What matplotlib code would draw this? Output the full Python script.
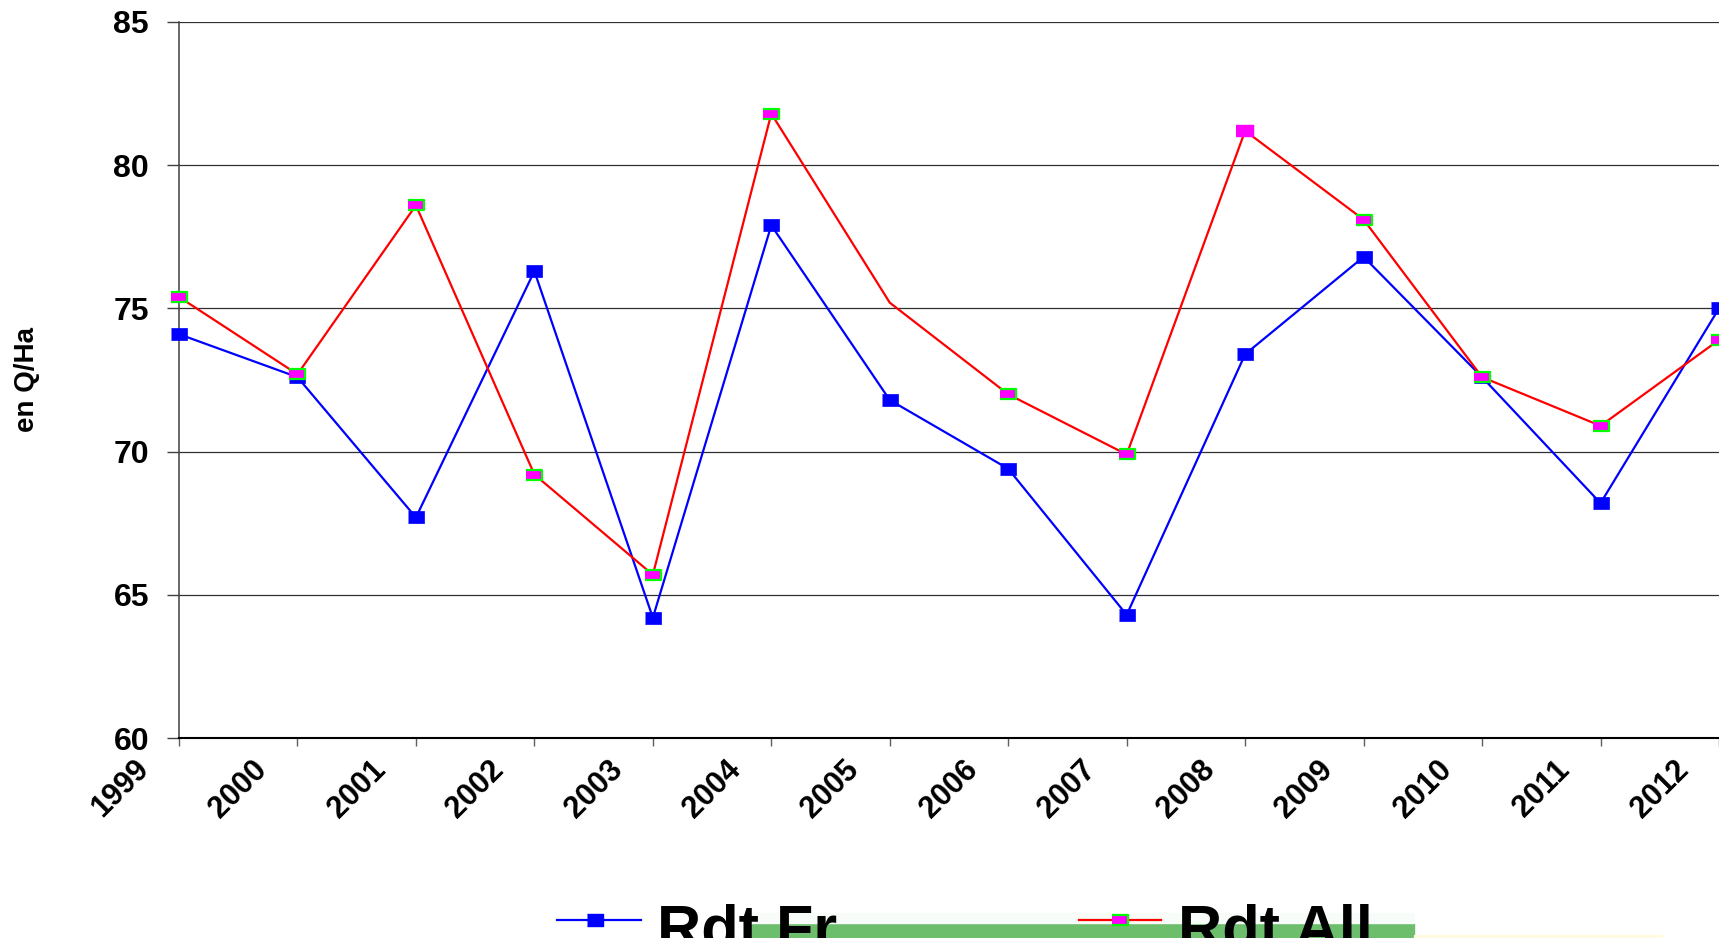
import matplotlib
matplotlib.use("Agg")
import matplotlib.pyplot as plt
from matplotlib.lines import Line2D
from matplotlib.patches import Rectangle
from matplotlib.transforms import ScaledTranslation

plt.rcParams['font.family'] = ['Liberation Sans', 'DejaVu Sans']

years = ['1999', '2000', '2001', '2002', '2003', '2004', '2005', '2006',
         '2007', '2008', '2009', '2010', '2011', '2012']
rdt_fr = [74.1, 72.6, 67.7, 76.3, 64.2, 77.9, 71.8, 69.4, 64.3, 73.4, 76.8, 72.6, 68.2, 75.0]
rdt_all = [75.4, 72.7, 78.6, 69.2, 65.7, 81.8, 75.2, 72.0, 69.9, 81.2, 78.1, 72.6, 70.9, 73.9]
y_ticks = [60, 65, 70, 75, 80, 85]
y_label = 'en Q/Ha'
legend_labels = ['Rdt Fr', 'Rdt All']

W, H = 1719, 938
fig = plt.figure(figsize=(W / 100, H / 100), dpi=100)
ax = fig.add_axes([179 / W, (H - 738) / H, (W - 179) / W, (738 - 22) / H])

rect = [(-1, -0.68), (1, -0.68), (1, 0.68), (-1, 0.68)]
x = list(range(len(years)))

ax.plot(x, rdt_fr, color='#0000ff', lw=1.6, marker=rect, ms=12,
        mfc='#0000ff', mec='#0000ff', mew=0.5, clip_on=False, zorder=3)

all_green = [i for i in x if i not in (6, 9)]
ax.plot(x, rdt_all, color='#ff0000', lw=1.6, marker=rect, ms=11,
        mfc='#ff00ff', mec='#00ff00', mew=1.6, markevery=all_green,
        clip_on=False, zorder=4)
ax.plot([x[9]], [rdt_all[9]], ls='none', marker=rect, ms=13,
        mfc='#ff00ff', mec='#ff00ff', mew=0.3, clip_on=False, zorder=4)

ax.set_xlim(0, (W - 179) / 119.08)
ax.set_ylim(60, 85)
ax.set_yticks(y_ticks)
ax.set_yticklabels([str(v) for v in y_ticks], fontsize=23, fontweight='bold')
ax.set_xticks(x)
ax.set_xticklabels([])

# rotated category labels, offset like the original
off = ScaledTranslation(-0.35, -0.27, fig.dpi_scale_trans)
for xi, lab in zip(x, years):
    ax.text(xi, 0, lab, transform=ax.get_xaxis_transform() + off,
            fontsize=22, fontweight='bold', rotation=45, ha='right', va='center',
            rotation_mode='anchor', clip_on=False)

ax.tick_params(axis='y', direction='out', length=8.6, width=1.0, color='#404040', pad=13)
ax.tick_params(axis='x', direction='out', length=5.8, width=1.0, color='#606060')

ax.yaxis.grid(True, color='#303030', lw=0.9)
ax.set_axisbelow(True)
for s in ['top', 'right']:
    ax.spines[s].set_visible(False)
ax.spines['left'].set_color('#404040')
ax.spines['left'].set_linewidth(1.1)
ax.spines['bottom'].set_color('#000000')
ax.spines['bottom'].set_linewidth(1.5)

fig.text(27 / W, 1 - 380 / H, y_label, rotation=90, fontsize=20, fontweight='bold',
         ha='center', va='center')

# legend area
fig.patches.append(Rectangle((745 / W, 0), (1414 - 745) / W, 15 / H,
                             transform=fig.transFigure, color='#6cbe6c', zorder=1))
fig.patches.append(Rectangle((745 / W, 15 / H), (1414 - 745) / W, 10 / H,
                             transform=fig.transFigure, color='#f8fcf8', zorder=1))
fig.patches.append(Rectangle((1414 / W, 0), (1662 - 1414) / W, 3 / H,
                             transform=fig.transFigure, color='#fffbe0', zorder=1))

ly = 1 - 920 / H
fig.add_artist(Line2D([557 / W, 641 / W], [ly, ly], transform=fig.transFigure,
                      color='#0000ff', lw=1.6, zorder=5))
fig.add_artist(Line2D([595 / W], [ly], transform=fig.transFigure, ls='none',
                      marker=rect, ms=12, mfc='#0000ff', mec='#0000ff', zorder=6))
fig.add_artist(Line2D([1079 / W, 1161 / W], [ly, ly], transform=fig.transFigure,
                      color='#ff0000', lw=1.6, zorder=5))
fig.add_artist(Line2D([1120 / W], [ly], transform=fig.transFigure, ls='none',
                      marker=rect, ms=11, mfc='#ff00ff', mec='#00ff00', mew=1.6, zorder=6))
fig.text(657 / W, 1 - 948 / H, legend_labels[0], fontsize=44, fontweight='bold',
         ha='left', va='baseline', zorder=7)
fig.text(1178 / W, 1 - 948 / H, legend_labels[1], fontsize=44, fontweight='bold',
         ha='left', va='baseline', zorder=7)

fig.savefig('out.png', dpi=100)
